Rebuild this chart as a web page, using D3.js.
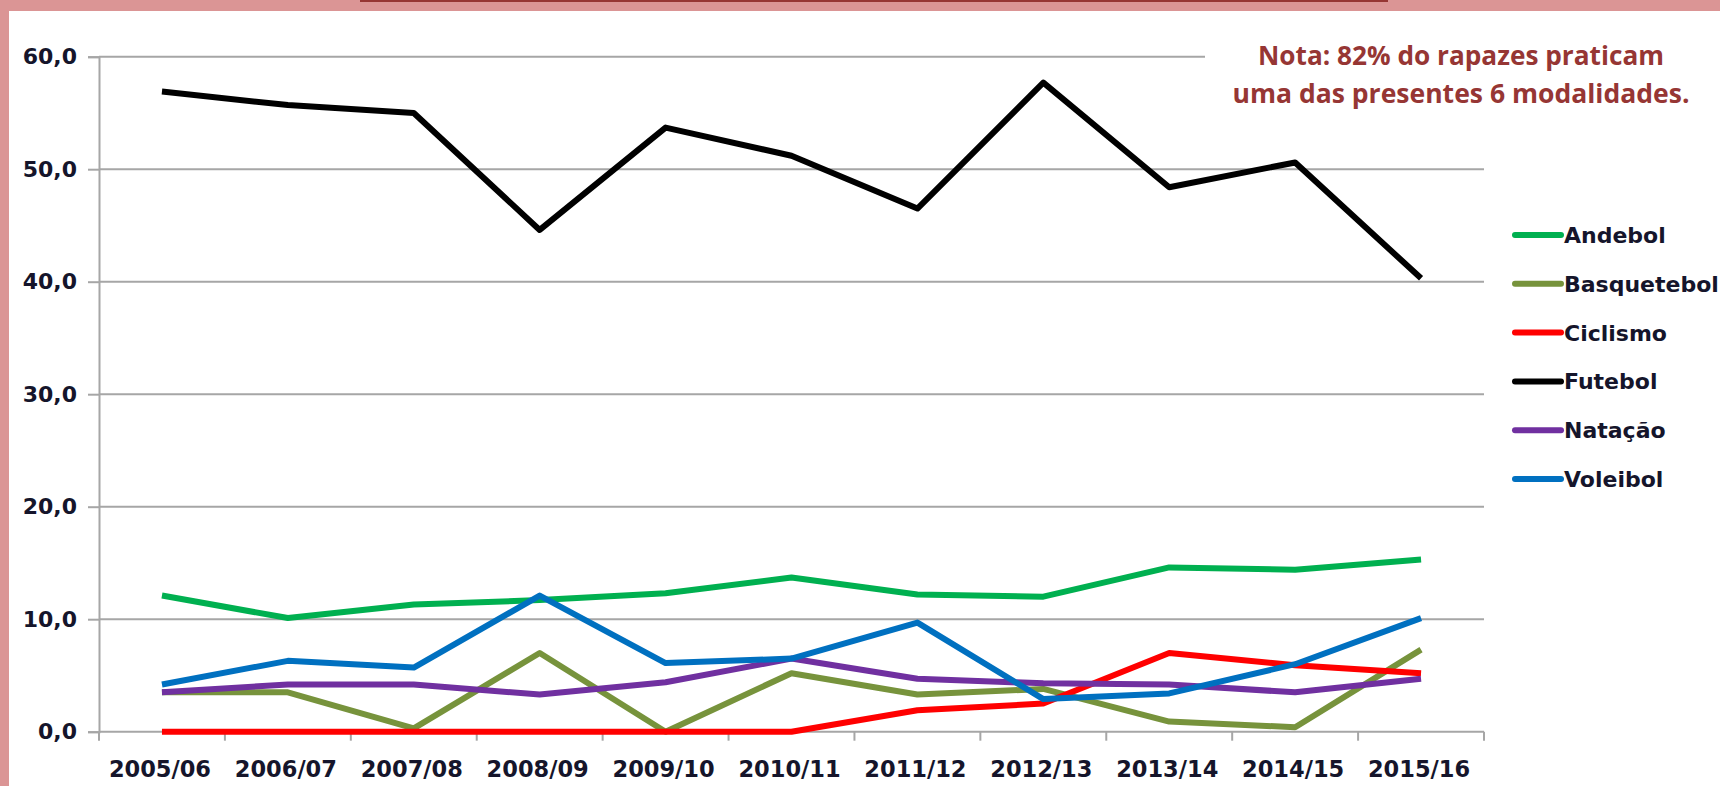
<!DOCTYPE html>
<html>
<head>
<meta charset="utf-8">
<script src="https://cdn.jsdelivr.net/npm/d3@7"></script>
<style>
  body { margin: 0; background: #fff; }
  svg { display: block; }
</style>
</head>
<body>
<div id="chart"></div>
<script>
// seasons on the x axis
let seasons = ["2005/06", "2006/07", "2007/08", "2008/09", "2009/10", "2010/11",
               "2011/12", "2012/13", "2013/14", "2014/15", "2015/16"];

// one array per sport (% of boys)
let andebol     = [12.1, 10.1, 11.3, 11.7, 12.3, 13.7, 12.2, 12.0, 14.6, 14.4, 15.3];
let basquetebol = [3.5, 3.5, 0.3, 7.0, 0.0, 5.2, 3.3, 3.8, 0.9, 0.4, 7.3];
let ciclismo    = [0.0, 0.0, 0.0, 0.0, 0.0, 0.0, 1.9, 2.5, 7.0, 5.9, 5.2];
let futebol     = [56.9, 55.7, 55.0, 44.6, 53.7, 51.2, 46.5, 57.7, 48.4, 50.6, 40.3];
let natacao     = [3.5, 4.2, 4.2, 3.3, 4.4, 6.5, 4.7, 4.3, 4.2, 3.5, 4.7];
let voleibol    = [4.2, 6.3, 5.7, 12.1, 6.1, 6.5, 9.7, 2.9, 3.4, 6.0, 10.1];

let seriesNames = ["Andebol", "Basquetebol", "Ciclismo", "Futebol", "Natação", "Voleibol"];
let yTicks = [0, 10, 20, 30, 40, 50, 60];
let noteLines = ["Nota: 82% do rapazes praticam", "uma das presentes 6 modalidades."];

let series = [
    { name: seriesNames[0], values: andebol,     color: "#00b050" },
    { name: seriesNames[1], values: basquetebol, color: "#77933c" },
    { name: seriesNames[2], values: ciclismo,    color: "#ff0000" },
    { name: seriesNames[3], values: futebol,     color: "#000000" },
    { name: seriesNames[4], values: natacao,     color: "#7030a0" },
    { name: seriesNames[5], values: voleibol,    color: "#0070c0" }
];

let width = 1720, height = 786;
let plot = { left: 99, right: 1484, top: 56.7, bottom: 731.7 };
let labelFont = "'DejaVu Sans', Verdana, sans-serif";
let textColor = "#15152b";

let svg = d3.select("#chart")
    .append("svg")
    .attr("width", width)
    .attr("height", height);

// frame: pink band on top and left, thin dark red line on top
svg.append("rect").attr("x", 0).attr("y", 0).attr("width", width).attr("height", 11).attr("fill", "#db9595");
svg.append("rect").attr("x", 0).attr("y", 0).attr("width", 9).attr("height", height).attr("fill", "#db9595");
svg.append("rect").attr("x", 360).attr("y", 0).attr("width", 1028).attr("height", 2).attr("fill", "#963634");

let x = d3.scaleBand()
    .domain(seasons)
    .range([plot.left, plot.right])
    .padding(0);

let y = d3.scaleLinear()
    .domain([0, 60])
    .range([plot.bottom, plot.top]);

// gridlines
svg.append("g")
    .selectAll("line")
    .data(yTicks.filter(d => d > 0))
    .enter()
    .append("line")
    .attr("x1", plot.left)
    .attr("x2", plot.right)
    .attr("y1", d => y(d))
    .attr("y2", d => y(d))
    .attr("stroke", "#a6a6a6")
    .attr("stroke-width", 2);

// y axis
let yAxis = svg.append("g")
    .attr("transform", `translate(${plot.left}, 0)`)
    .call(d3.axisLeft(y)
        .tickValues(yTicks)
        .tickSize(11)
        .tickPadding(11)
        .tickFormat(d => d.toFixed(1).replace(".", ",")));
yAxis.select(".domain").attr("stroke", "#a6a6a6").attr("stroke-width", 2);
yAxis.selectAll(".tick line").attr("stroke", "#a6a6a6").attr("stroke-width", 2);
yAxis.selectAll(".tick text")
    .attr("fill", textColor)
    .style("font-family", labelFont)
    .style("font-weight", "bold")
    .style("font-size", "22px");

// x axis line and tick marks at the category boundaries
svg.append("line")
    .attr("x1", plot.left).attr("x2", plot.right)
    .attr("y1", y(0)).attr("y2", y(0))
    .attr("stroke", "#a6a6a6").attr("stroke-width", 2);

let boundaries = seasons.map(d => x(d)).concat([x(seasons[seasons.length - 1]) + x.bandwidth()]);
svg.append("g")
    .selectAll("line")
    .data(boundaries)
    .enter()
    .append("line")
    .attr("x1", d => d).attr("x2", d => d)
    .attr("y1", y(0)).attr("y2", y(0) + 9)
    .attr("stroke", "#a6a6a6").attr("stroke-width", 2);

svg.append("g")
    .selectAll("text")
    .data(seasons)
    .enter()
    .append("text")
    .attr("x", d => x(d) + x.bandwidth() / 2 - 2)
    .attr("y", 777)
    .attr("text-anchor", "middle")
    .attr("fill", textColor)
    .style("font-family", labelFont)
    .style("font-weight", "bold")
    .style("font-size", "22.5px")
    .text(d => d);

// lines
let line = d3.line()
    .x((d, i) => x(seasons[i]) + x.bandwidth() / 2)
    .y(d => y(d));

svg.append("g")
    .selectAll("path")
    .data(series)
    .enter()
    .append("path")
    .attr("d", d => line(d.values))
    .attr("fill", "none")
    .attr("stroke", d => d.color)
    .attr("stroke-width", 6)
    .attr("stroke-linejoin", "round");

// note box (covers the top gridline on the right)
svg.append("rect")
    .attr("x", 1205).attr("y", 28)
    .attr("width", 515).attr("height", 90)
    .attr("fill", "#fff");

svg.append("g")
    .selectAll("text")
    .data(noteLines)
    .enter()
    .append("text")
    .attr("x", 1461)
    .attr("y", (d, i) => 65 + i * 38)
    .attr("text-anchor", "middle")
    .attr("fill", "#963634")
    .attr("textLength", (d, i) => i === 0 ? 406 : 457)
    .attr("lengthAdjust", "spacingAndGlyphs")
    .style("font-family", "'Open Sans', sans-serif")
    .style("font-weight", "bold")
    .style("font-size", "27px")
    .text(d => d);

// legend
let legendY = d3.scalePoint()
    .domain(seriesNames)
    .range([235, 479]);

let legend = svg.append("g")
    .selectAll("g")
    .data(series)
    .enter()
    .append("g")
    .attr("transform", d => `translate(1513, ${legendY(d.name)})`);

legend.append("line")
    .attr("x1", 2).attr("x2", 48)
    .attr("y1", 0).attr("y2", 0)
    .attr("stroke", d => d.color)
    .attr("stroke-width", 6)
    .attr("stroke-linecap", "round");

legend.append("text")
    .attr("x", 51)
    .attr("y", 0)
    .attr("dy", "0.36em")
    .attr("fill", textColor)
    .style("font-family", labelFont)
    .style("font-weight", "bold")
    .style("font-size", "22px")
    .text(d => d.name);
</script>
</body>
</html>
